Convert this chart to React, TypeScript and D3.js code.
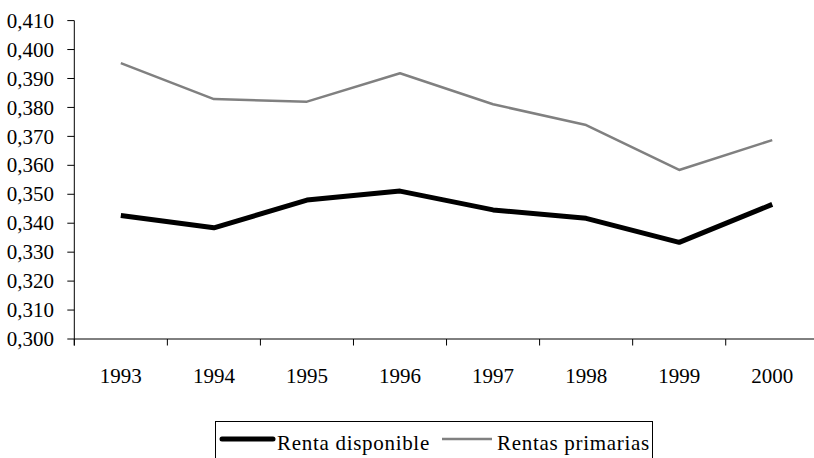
import React from 'react';
import { scaleBand, scaleLinear, line, range, formatLocale } from 'd3';

const years = ['1993', '1994', '1995', '1996', '1997', '1998', '1999', '2000'];
const rentaDisponible = [0.3427, 0.3384, 0.348, 0.3511, 0.3446, 0.3417, 0.3334, 0.3465];
const rentasPrimarias = [0.3953, 0.3829, 0.382, 0.3918, 0.3811, 0.3739, 0.3584, 0.3687];
const yTicks = range(0, 12).map((i) => 0.3 + i * 0.01);

const W = 814;
const H = 458;
const left = 74.3;
const step = 93.06;
const top = 20.6;
const bottom = 339;
const font = "'Liberation Serif', 'DejaVu Serif', serif";

const es = formatLocale({ decimal: ',', thousands: '.', grouping: [3], currency: ['', ' €'] });
const fmt = es.format('.3f');

export default function App() {
  const x = scaleBand<string>().domain(years).range([left, left + step * years.length]).padding(0);
  const y = scaleLinear().domain([0.3, 0.41]).range([bottom, top]);
  const cx = (i: number) => (x(years[i]) as number) + x.bandwidth() / 2;

  const path = line<number>()
    .x((_, i) => cx(i))
    .y((d) => y(d));

  const boundaries = years.map((yr) => x(yr) as number);
  const txt = { fontFamily: font, fontSize: '21px' };
  const legendTxt = { ...txt, letterSpacing: '0.7px' };

  return (
    <svg
      width={W}
      height={H}
      style={{ position: 'absolute', left: 0, top: 0, background: '#fff', fontFamily: font }}
    >
      {/* y axis */}
      <line x1={left} x2={left} y1={top} y2={bottom + 6.5} stroke="#000" strokeWidth={1} />
      {yTicks.map((t) => (
        <g key={t}>
          <line x1={left - 7} x2={left} y1={y(t)} y2={y(t)} stroke="#000" strokeWidth={1} />
          <text x={54} y={y(t)} dy="0.34em" textAnchor="end" style={txt} fill="#000">
            {fmt(t)}
          </text>
        </g>
      ))}

      {/* x axis */}
      <line x1={left} x2={W} y1={bottom} y2={bottom} stroke="#000" strokeWidth={1} />
      {boundaries.map((b) => (
        <line key={b} x1={b} x2={b} y1={bottom} y2={bottom + 6.5} stroke="#000" strokeWidth={1} />
      ))}
      {years.map((yr, i) => (
        <text key={yr} x={cx(i)} y={383.3} textAnchor="middle" style={txt} fill="#000">
          {yr}
        </text>
      ))}

      {/* series */}
      <path d={path(rentasPrimarias) ?? ''} fill="none" stroke="#808080" strokeWidth={2.5} strokeLinejoin="round" />
      <path d={path(rentaDisponible) ?? ''} fill="none" stroke="#000" strokeWidth={5} strokeLinejoin="round" />

      {/* legend */}
      <rect x={215.5} y={421.5} width={437} height={60} fill="none" stroke="#000" strokeWidth={1} />
      <line x1={222} x2={273} y1={439} y2={439} stroke="#000" strokeWidth={5} strokeLinecap="round" />
      <text x={277} y={450} style={legendTxt} fill="#000">Renta disponible</text>
      <line x1={442} x2={492} y1={439} y2={439} stroke="#808080" strokeWidth={2.5} />
      <text x={497} y={450} style={legendTxt} fill="#000">Rentas primarias</text>
    </svg>
  );
}
